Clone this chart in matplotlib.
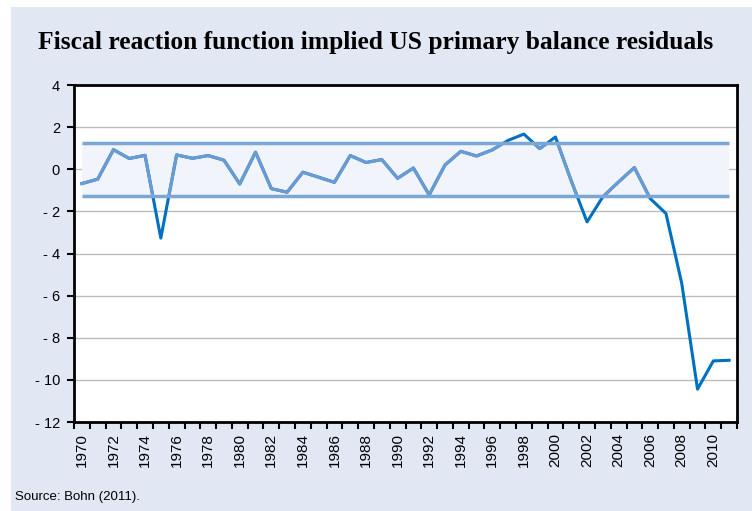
import matplotlib
import matplotlib.pyplot as plt
import matplotlib.patches as mpatches
import numpy as np

matplotlib.use("Agg")

# US primary balance residuals (% of GDP)
years = list(range(1970, 2012))
residuals = [
    -0.68, -0.47, 0.93, 0.51, 0.66, -3.27, 0.68, 0.52, 0.65, 0.43,
    -0.70, 0.81, -0.92, -1.09, -0.14, -0.38, -0.62, 0.65, 0.32, 0.46,
    -0.43, 0.06, -1.22, 0.20, 0.85, 0.63, 0.92, 1.37, 1.67, 0.98,
    1.53, -0.55, -2.50, -1.31, -0.60, 0.08, -1.39, -2.10, -5.42, -10.44,
    -9.10, -9.07,
]
band = 1.27
y_ticks = [4, 2, 0, -2, -4, -6, -8, -10, -12]
x_label_years = list(range(1970, 2011, 2))

BG_COLOR = "#E1E8F4"
LINE_DARK = "#0070C0"
LINE_LIGHT = "#6A9BD2"
BAND_EDGE = "#7BA7D4"
BAND_FILL = "#F1F4FA"
GRID_COLOR = "#BDBDBD"

fig = plt.figure(figsize=(7.52, 5.11), dpi=100)
fig.patch.set_facecolor("white")
# light blue panel behind the chart
fig.patches.append(
    mpatches.Rectangle((11 / 752, 0), 1 - 11 / 752, 1 - 7 / 511,
                       transform=fig.transFigure, facecolor=BG_COLOR,
                       edgecolor="none", zorder=-5)
)

ax = fig.add_axes([74 / 752, 1 - 422 / 511, (737 - 74) / 752, (422 - 85) / 511])
ax.set_facecolor("white")

ax.set_xlim(1969.55, 2011.45)
ax.set_ylim(-12, 4)

# band of +/- one standard deviation
ax.fill_between([years[0], years[-1]], -band, band, color=BAND_FILL, zorder=1, lw=0)
for yb in (band, -band):
    ax.plot([years[0], years[-1]], [yb, yb], color=BAND_EDGE, lw=2.5, zorder=3,
            solid_capstyle="butt")

# residual line: darker outside the band, lighter inside
dark, = ax.plot(years, residuals, color=LINE_DARK, lw=2.2, zorder=2)
light, = ax.plot(years, residuals, color=LINE_LIGHT, lw=2.2, zorder=2.5)
clip = mpatches.Rectangle((years[0] - 1, -band), 50, 2 * band, transform=ax.transData)
light.set_clip_path(clip)

# grid
for yt in y_ticks[1:-1]:
    ax.axhline(yt, color=GRID_COLOR, lw=1, zorder=0.5)

ax.set_yticks(y_ticks)
ax.set_yticklabels([f"- {abs(v)}" if v < 0 else f"{v}" for v in y_ticks],
                   fontsize=10.5, family="Liberation Sans")
ax.set_xticks([y - 0.5 for y in years] + [years[-1] + 0.5])
ax.set_xticklabels([])
ax.set_xticks(x_label_years, minor=True)
ax.set_xticklabels([str(y) for y in x_label_years], minor=True, rotation=90,
                   fontsize=11, family="Liberation Sans")
ax.tick_params(axis="x", which="major", direction="out", length=5, width=1.5)
ax.tick_params(axis="x", which="minor", length=0, pad=8)
ax.tick_params(axis="y", direction="out", length=5, width=1.5, pad=5)

for spine in ax.spines.values():
    spine.set_linewidth(2)
    spine.set_color("black")

fig.text(0.5, 1 - 42 / 511, "Fiscal reaction function implied US primary balance residuals",
         ha="center", va="center", fontsize=18.4, fontweight="bold",
         family="Liberation Serif")
fig.text(15 / 752, 1 - 497 / 511, "Source: Bohn (2011).", ha="left", va="center",
         fontsize=9.5, family="Liberation Sans")

fig.savefig("out.png", dpi=100, facecolor=fig.get_facecolor())
